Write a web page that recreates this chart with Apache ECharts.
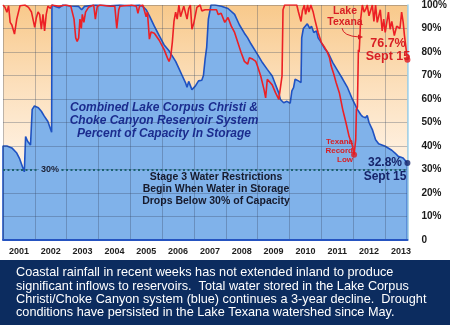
<!DOCTYPE html>
<html>
<head>
<meta charset="utf-8">
<script src="https://cdn.jsdelivr.net/npm/echarts@6/dist/echarts.min.js"></script>
<style>
  html, body { margin: 0; padding: 0; background: #ffffff; }
  #chart { width: 450px; height: 325px; }
</style>
</head>
<body>
<div id="chart"></div>
<script>
// Year labels shown under the plot (centred on each year)
const yearLabels = ['2001','2002','2003','2004','2005','2006','2007','2008','2009','2010','2011','2012','2013'];

// Combined Lake Corpus Christi / Choke Canyon storage, % of capacity (decimal year, value)
const systemDates = [
  2001.000, 2001.000, 2001.123, 2001.278, 2001.432, 2001.525, 2001.617, 2001.670, 2001.710, 2001.772,
  2001.864, 2001.917, 2001.988, 2002.111, 2002.204, 2002.296, 2002.410, 2002.481, 2002.528, 2002.537,
  2002.667, 2002.759, 2002.883, 2003.130, 2003.377, 2003.469, 2003.562, 2003.901, 2004.364, 2004.673,
  2004.981, 2005.290, 2005.383, 2005.497, 2005.599, 2005.753, 2005.907, 2006.062, 2006.216, 2006.423,
  2006.525, 2006.627, 2006.731, 2006.781, 2006.833, 2006.935, 2007.040, 2007.142, 2007.244, 2007.296,
  2007.349, 2007.398, 2007.451, 2007.534, 2007.657, 2007.861, 2008.068, 2008.275, 2008.429, 2008.583,
  2008.685, 2008.787, 2008.994, 2009.148, 2009.302, 2009.457, 2009.559, 2009.664, 2009.713, 2009.818,
  2009.920, 2010.022, 2010.059, 2010.074, 2010.127, 2010.176, 2010.228, 2010.281, 2010.361, 2010.383,
  2010.435, 2010.485, 2010.559, 2010.639, 2010.691, 2010.762, 2010.846, 2010.898, 2011.000, 2011.102,
  2011.207, 2011.361, 2011.515, 2011.670, 2011.824, 2011.978, 2012.133, 2012.235, 2012.296, 2012.343,
  2012.389, 2012.441, 2012.497, 2012.602, 2012.704, 2012.799, 2013.006, 2013.213, 2013.315, 2013.417,
  2013.568, 2013.704, 2013.704
];
const systemValues = [
  0, 40, 40, 39.2, 37, 34.5, 31, 29, 44, 42,
  40.4, 55.6, 57, 56.3, 54.8, 52.7, 50.4, 47.7, 45.8, 100,
  99.3, 98.8, 100, 99.6, 99.4, 98, 99.4, 100, 99.7, 100,
  99.7, 100, 99.5, 98, 95.4, 91, 87, 83, 80.5, 76,
  73, 70, 67, 65, 67.5, 64, 65.5, 67.7, 68, 70,
  77, 82, 94, 100, 100, 99.5, 98.5, 96, 91.5, 88,
  86, 83.5, 79, 75.5, 72.6, 69.8, 66.2, 62.5, 59.8, 58.4,
  59, 58.2, 59, 63.5, 64.8, 68.4, 68.7, 67.7, 67, 86,
  90, 89.5, 92, 90, 91, 88.3, 89, 86, 84, 81.5,
  79.8, 75.5, 72, 68.5, 64.8, 59.8, 55.6, 53.4, 52.5, 53,
  52, 53, 50, 47, 42.7, 41, 39.9, 38.2, 37, 35.6,
  34.9, 32.8, 0
];

// Lake Texana storage, % of capacity (decimal year, value)
const texanaDates = [
  2001.000, 2001.062, 2001.123, 2001.176, 2001.225, 2001.278, 2001.361, 2001.432, 2001.534, 2001.688,
  2001.802, 2001.895, 2001.997, 2002.049, 2002.102, 2002.151, 2002.204, 2002.256, 2002.306, 2002.358,
  2002.410, 2002.491, 2002.534, 2002.759, 2002.975, 2003.130, 2003.231, 2003.284, 2003.330, 2003.377,
  2003.417, 2003.460, 2003.491, 2003.540, 2003.593, 2003.685, 2003.849, 2003.901, 2003.963, 2004.056,
  2004.364, 2004.512, 2004.574, 2004.636, 2004.673, 2005.034, 2005.188, 2005.238, 2005.290, 2005.392,
  2005.497, 2005.537, 2005.599, 2005.651, 2005.753, 2005.907, 2006.062, 2006.164, 2006.216, 2006.268,
  2006.318, 2006.370, 2006.423, 2006.472, 2006.525, 2006.577, 2006.679, 2006.781, 2006.833, 2006.886,
  2006.935, 2006.988, 2007.090, 2007.194, 2007.244, 2007.349, 2007.503, 2007.707, 2007.759, 2007.852,
  2007.966, 2008.068, 2008.171, 2008.275, 2008.377, 2008.479, 2008.583, 2008.685, 2008.738, 2008.840,
  2008.941, 2008.994, 2009.096, 2009.200, 2009.250, 2009.302, 2009.355, 2009.457, 2009.559, 2009.664,
  2009.713, 2009.765, 2009.796, 2009.848, 2010.228, 2010.281, 2010.361, 2010.404, 2010.466, 2010.506,
  2010.568, 2010.608, 2010.670, 2010.744, 2010.793, 2010.898, 2011.000, 2011.102, 2011.185, 2011.256,
  2011.309, 2011.392, 2011.463, 2011.565, 2011.670, 2011.772, 2011.873, 2011.978, 2012.028, 2012.080,
  2012.102, 2012.133, 2012.164, 2012.188, 2012.213, 2012.235, 2012.287, 2012.343, 2012.389, 2012.441,
  2012.497, 2012.602, 2012.651, 2012.704, 2012.756, 2012.852, 2012.911, 2012.960, 2013.006, 2013.108,
  2013.160, 2013.213, 2013.293, 2013.367, 2013.469, 2013.522, 2013.571, 2013.611, 2013.704
];
const texanaValues = [
  100, 99, 96.9, 99.7, 92.6, 91.5, 87.6, 94, 99.7, 100,
  99, 97, 90.5, 94.7, 97, 96, 89.7, 96, 89, 96,
  99.5, 98.5, 100, 99.5, 100, 99.5, 94, 86, 84.5, 86,
  94, 90, 96, 92.6, 97, 99, 100, 94, 99.5, 100,
  99.5, 99.5, 90, 98, 99.5, 100, 99.5, 96.5, 99.5, 100,
  95, 97, 85.5, 88.5, 88, 85, 81, 77.5, 76, 78,
  84, 93, 97, 94, 100, 95, 99.5, 94, 98.5, 100,
  89.7, 92, 99, 100, 97.5, 98, 98, 98, 96, 96.5,
  92.6, 94.7, 91, 88.3, 84, 79.8, 76, 74.8, 77.5, 77,
  76, 74, 69.8, 64, 60.5, 68.4, 68.4, 66, 62.7, 59.8,
  59.8, 69.8, 98, 100, 100, 97, 93, 97.5, 100, 96,
  100, 97, 100, 97, 94, 88.3, 84, 82, 80, 77.6,
  74, 70.5, 67, 62.7, 55.6, 50, 44, 40, 36.3, 42.7,
  55.6, 56.5, 81, 80, 87, 94, 100, 97, 98, 100,
  95.4, 100, 93, 100, 92.6, 98, 89, 94, 88.3, 97,
  89.7, 93, 87, 91, 90, 97, 92.6, 87, 76.7
];

// Stage 3 restriction trigger level (%)
const stage3Level = 30;

const pairs = (xs, ys) => xs.map((x, i) => [x, ys[i]]);
const systemData = pairs(systemDates, systemValues);
const texanaData = pairs(texanaDates, texanaValues);

// Latest reading of each series and Texana's record low
const lastSystem = systemData[systemData.length - 2];
const lastTexana = texanaData[texanaData.length - 1];
const lowIdx = texanaValues.indexOf(Math.min.apply(null, texanaValues));
const texanaLow = texanaData[lowIdx];

const xMin = 2001, xMax = lastSystem[0];

const chart = echarts.init(document.getElementById('chart'), null, { renderer: 'canvas' });

const FONT = '"Liberation Sans", Arial, sans-serif';
const gridLine = { color: 'rgba(55,70,95,0.32)', width: 1 };

chart.setOption({
  animation: false,
  backgroundColor: '#ffffff',
  grid: {
    left: 1, right: 37, top: 5, bottom: 85,
    show: true,
    borderWidth: 0,
    backgroundColor: new echarts.graphic.LinearGradient(0, 0, 0, 1, [
      { offset: 0, color: '#f8c98b' },
      { offset: 0.35, color: '#fce0bd' },
      { offset: 0.6, color: '#feeedb' },
      { offset: 1, color: '#fff8ef' }
    ])
  },
  xAxis: [
    {
      type: 'value', min: xMin, max: xMax, interval: 1, z: 2,
      axisLine: { show: true, lineStyle: { color: '#2553c0', width: 2 } },
      axisTick: { show: false },
      axisLabel: { show: false },
      splitLine: { show: true, lineStyle: gridLine }
    },
    {
      type: 'value', min: xMin, max: xMax, interval: 0.5, position: 'bottom',
      axisLine: { show: false }, axisTick: { show: false }, splitLine: { show: false },
      axisLabel: {
        margin: 7,
        color: '#1e1e1e', fontSize: 9, fontWeight: 'bold', fontFamily: FONT,
        formatter: v => {
          if (Math.abs((v % 1) - 0.5) > 1e-6) return '';
          const i = Math.floor(v) - xMin;
          return yearLabels[i] || '';
        }
      }
    }
  ],
  yAxis: {
    type: 'value', min: 0, max: 100, interval: 10, position: 'right', z: 2,
    axisLine: { show: true, lineStyle: { color: '#a3d6ec', width: 1.5 } },
    axisTick: { show: false },
    splitLine: { show: true, lineStyle: gridLine },
    axisLabel: {
      margin: 14, align: 'left',
      color: '#1a1a1a', fontSize: 10, fontWeight: 'bold', fontFamily: FONT,
      formatter: v => (v === 0 ? '0' : v + '%')
    }
  },
  series: [
    {
      name: 'Corpus Christi / Choke Canyon',
      type: 'line', z: 1,
      data: systemData,
      showSymbol: false, symbol: 'none',
      lineStyle: { color: '#1f52c2', width: 1.6 },
      areaStyle: { color: '#80b2ea', opacity: 1 },
      markLine: {
        silent: true, symbol: 'none',
        label: { show: false },
        lineStyle: { type: [2, 2.5], color: '#1b6270', width: 2 },
        data: [{ yAxis: stage3Level }]
      }
    },
    {
      name: 'Lake Texana',
      type: 'line', z: 3,
      data: texanaData,
      showSymbol: false, symbol: 'none',
      lineStyle: { color: '#ec2025', width: 1.6 }
    },
    {
      type: 'scatter', z: 4, symbolSize: 6,
      data: [
        { value: lastTexana, itemStyle: { color: '#e3191e' } },
        { value: texanaLow, itemStyle: { color: '#e3191e' } },
        { value: lastSystem, itemStyle: { color: '#16246a' } }
      ]
    }
  ],
  graphic: [
    {
      type: 'text', z: 10,
      style: {
        text: 'Combined Lake Corpus Christi &\nChoke Canyon Reservoir System\nPercent of Capacity In Storage',
        x: 164, y: 121, align: 'center', verticalAlign: 'middle', lineHeight: 13,
        font: 'italic bold 12px ' + FONT, fill: '#1b2c8e'
      }
    },
    {
      type: 'text', z: 10,
      style: {
        text: 'Stage 3 Water Restrictions\nBegin When Water in Storage\nDrops Below 30% of Capacity',
        x: 216, y: 189, align: 'center', verticalAlign: 'middle', lineHeight: 12,
        font: 'bold 10.5px ' + FONT, fill: '#161a2c'
      }
    },
    {
      type: 'text', z: 10,
      style: {
        text: '30%', x: 50, y: 170, align: 'center', verticalAlign: 'middle',
        font: 'bold 9px ' + FONT, fill: '#1a1f33',
        backgroundColor: '#80b2ea', padding: [1, 2]
      }
    },
    {
      type: 'text', z: 10,
      style: {
        text: 'Lake\nTexana', x: 345, y: 16.5, align: 'center', verticalAlign: 'middle', lineHeight: 11.5,
        font: 'bold 10.5px ' + FONT, fill: '#d81f24'
      }
    },
    {
      type: 'bezierCurve', z: 10,
      shape: { x1: 342, y1: 28, x2: 359, y2: 37, cpx1: 343, cpy1: 36 },
      style: { stroke: '#d81f24', lineWidth: 1, fill: null }
    },
    {
      type: 'polygon', z: 10,
      shape: { points: [[363, 37], [358, 34.6], [358, 39.4]] },
      style: { fill: '#d81f24' }
    },
    {
      type: 'text', z: 10,
      style: {
        text: '76.7%\nSept 15', x: 388, y: 50.5, align: 'center', verticalAlign: 'middle', lineHeight: 13,
        font: 'bold 12.5px ' + FONT, fill: '#d81f24'
      }
    },
    {
      type: 'text', z: 10,
      style: {
        text: 'Texana\nRecord\nLow', x: 353, y: 150.5, align: 'right', verticalAlign: 'middle', lineHeight: 8.8,
        font: 'bold 8px ' + FONT, fill: '#d81f24'
      }
    },
    {
      type: 'text', z: 10,
      style: {
        text: '32.8%\nSept 15', x: 385, y: 170, align: 'center', verticalAlign: 'middle', lineHeight: 14,
        font: 'bold 12px ' + FONT, fill: '#16246a'
      }
    },
    {
      type: 'rect', z: 10,
      shape: { x: 0, y: 260, width: 450, height: 65 },
      style: { fill: '#0c2c5f' }
    },
    {
      type: 'text', z: 11,
      style: {
        text: 'Coastal rainfall in recent weeks has not extended inland to produce\n' +
              'significant inflows to reservoirs.  Total water stored in the Lake Corpus\n' +
              'Christi/Choke Canyon system (blue) continues a 3-year decline.  Drought\n' +
              'conditions have persisted in the Lake Texana watershed since May.',
        x: 16, y: 266, align: 'left', verticalAlign: 'top', lineHeight: 13.4,
        font: '12.7px ' + FONT, fill: '#ffffff'
      }
    }
  ]
});
</script>
</body>
</html>
